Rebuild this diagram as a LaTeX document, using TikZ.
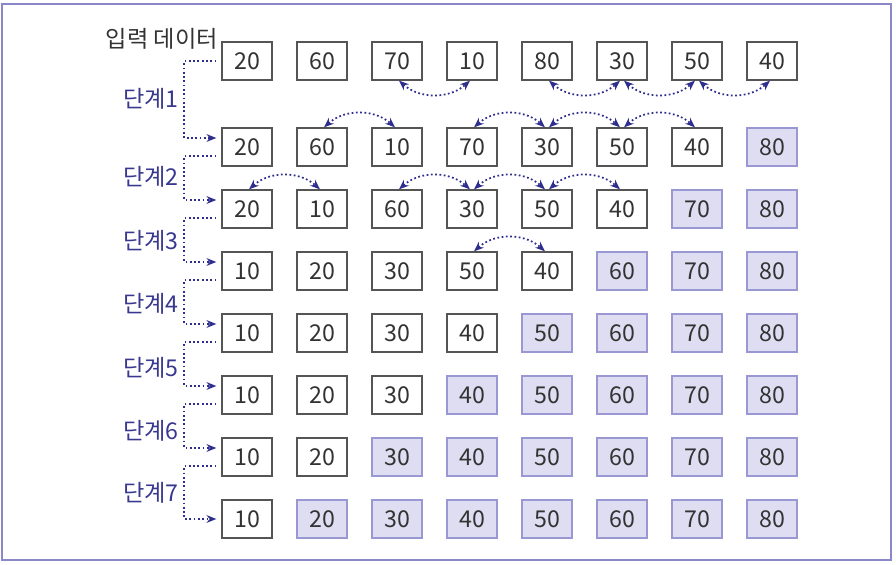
\documentclass[tikz,border=0pt]{standalone}
\usepackage{fontspec}
\setmainfont{Noto Sans CJK KR}
\usetikzlibrary{arrows.meta}
\usetikzlibrary{positioning}
\definecolor{framelav}{HTML}{8A88C8}
\definecolor{donefill}{HTML}{DEDDF2}
\definecolor{donedraw}{HTML}{9A98D2}
\definecolor{boxgray}{HTML}{555555}
\definecolor{arrowblue}{HTML}{2E2E8E}
\definecolor{stepblue}{HTML}{38388E}
\tikzset{
  cell/.style={rectangle,draw=boxgray,line width=0.9pt,fill=white,minimum width=1.25cm,minimum height=0.95cm,inner sep=0pt,font=\fontsize{16.5pt}{19pt}\selectfont,text=black!80},
  done/.style={cell,draw=donedraw,fill=donefill},
  stage/.style={font=\fontsize{16.5pt}{19pt}\selectfont,text=stepblue,anchor=east,inner sep=0pt},
  link/.style={draw=arrowblue,line width=1.25pt,dash pattern=on 1.25pt off 1.8pt,-{Stealth[length=7pt,width=5.5pt]}},
  swap/.style={draw=arrowblue,line width=1.25pt,dash pattern=on 1.25pt off 1.8pt,{Stealth[length=7pt,width=5.5pt]}-{Stealth[length=7pt,width=5.5pt]}}
}
\begin{document}
\begin{tikzpicture}
\useasboundingbox (0,0) rectangle (22.4,14.125);
\draw[framelav,line width=1.4pt] (0.05,0.125) rectangle (22.275,14.025);

% input row
\node[cell] (r0c0) at (6.175,12.6) {20};
\node[cell] (r0c1) at (8.05,12.6) {60};
\node[cell] (r0c2) at (9.925,12.6) {70};
\node[cell] (r0c3) at (11.8,12.6) {10};
\node[cell] (r0c4) at (13.675,12.6) {80};
\node[cell] (r0c5) at (15.55,12.6) {30};
\node[cell] (r0c6) at (17.425,12.6) {50};
\node[cell] (r0c7) at (19.3,12.6) {40};

% after pass 1
\node[cell] (r1c0) at (6.175,10.45) {20};
\node[cell] (r1c1) at (8.05,10.45) {60};
\node[cell] (r1c2) at (9.925,10.45) {10};
\node[cell] (r1c3) at (11.8,10.45) {70};
\node[cell] (r1c4) at (13.675,10.45) {30};
\node[cell] (r1c5) at (15.55,10.45) {50};
\node[cell] (r1c6) at (17.425,10.45) {40};
\node[done] (r1c7) at (19.3,10.45) {80};

% after pass 2
\node[cell] (r2c0) at (6.175,8.9) {20};
\node[cell] (r2c1) at (8.05,8.9) {10};
\node[cell] (r2c2) at (9.925,8.9) {60};
\node[cell] (r2c3) at (11.8,8.9) {30};
\node[cell] (r2c4) at (13.675,8.9) {50};
\node[cell] (r2c5) at (15.55,8.9) {40};
\node[done] (r2c6) at (17.425,8.9) {70};
\node[done] (r2c7) at (19.3,8.9) {80};

% after pass 3
\node[cell] (r3c0) at (6.175,7.35) {10};
\node[cell] (r3c1) at (8.05,7.35) {20};
\node[cell] (r3c2) at (9.925,7.35) {30};
\node[cell] (r3c3) at (11.8,7.35) {50};
\node[cell] (r3c4) at (13.675,7.35) {40};
\node[done] (r3c5) at (15.55,7.35) {60};
\node[done] (r3c6) at (17.425,7.35) {70};
\node[done] (r3c7) at (19.3,7.35) {80};

% after pass 4
\node[cell] (r4c0) at (6.175,5.8) {10};
\node[cell] (r4c1) at (8.05,5.8) {20};
\node[cell] (r4c2) at (9.925,5.8) {30};
\node[cell] (r4c3) at (11.8,5.8) {40};
\node[done] (r4c4) at (13.675,5.8) {50};
\node[done] (r4c5) at (15.55,5.8) {60};
\node[done] (r4c6) at (17.425,5.8) {70};
\node[done] (r4c7) at (19.3,5.8) {80};

% after pass 5
\node[cell] (r5c0) at (6.175,4.25) {10};
\node[cell] (r5c1) at (8.05,4.25) {20};
\node[cell] (r5c2) at (9.925,4.25) {30};
\node[done] (r5c3) at (11.8,4.25) {40};
\node[done] (r5c4) at (13.675,4.25) {50};
\node[done] (r5c5) at (15.55,4.25) {60};
\node[done] (r5c6) at (17.425,4.25) {70};
\node[done] (r5c7) at (19.3,4.25) {80};

% after pass 6
\node[cell] (r6c0) at (6.175,2.7) {10};
\node[cell] (r6c1) at (8.05,2.7) {20};
\node[done] (r6c2) at (9.925,2.7) {30};
\node[done] (r6c3) at (11.8,2.7) {40};
\node[done] (r6c4) at (13.675,2.7) {50};
\node[done] (r6c5) at (15.55,2.7) {60};
\node[done] (r6c6) at (17.425,2.7) {70};
\node[done] (r6c7) at (19.3,2.7) {80};

% after pass 7
\node[cell] (r7c0) at (6.175,1.15) {10};
\node[done] (r7c1) at (8.05,1.15) {20};
\node[done] (r7c2) at (9.925,1.15) {30};
\node[done] (r7c3) at (11.8,1.15) {40};
\node[done] (r7c4) at (13.675,1.15) {50};
\node[done] (r7c5) at (15.55,1.15) {60};
\node[done] (r7c6) at (17.425,1.15) {70};
\node[done] (r7c7) at (19.3,1.15) {80};

% labels
\node[font=\fontsize{16.5pt}{19pt}\selectfont,text=black!80,anchor=east,inner sep=0pt] (input) at (5.45,13.15) {입력 데이터};
\node[stage] (st1) at (4.475,11.65) {단계1};
\node[stage] (st2) at (4.475,9.7) {단계2};
\node[stage] (st3) at (4.475,8.1) {단계3};
\node[stage] (st4) at (4.475,6.54) {단계4};
\node[stage] (st5) at (4.475,4.93) {단계5};
\node[stage] (st6) at (4.475,3.35) {단계6};
\node[stage] (st7) at (4.475,1.8) {단계7};

% brackets between passes
\draw[link] ([xshift=-0.125cm]r0c0.west) -- ++(-0.8,0) |- ([xshift=-0.125cm,yshift=0.225cm]r1c0.west);
\draw[link] ([xshift=-0.125cm,yshift=-0.225cm]r1c0.west) -- ++(-0.8,0) |- ([xshift=-0.125cm,yshift=0.225cm]r2c0.west);
\draw[link] ([xshift=-0.125cm,yshift=-0.225cm]r2c0.west) -- ++(-0.8,0) |- ([xshift=-0.125cm,yshift=0.225cm]r3c0.west);
\draw[link] ([xshift=-0.125cm,yshift=-0.225cm]r3c0.west) -- ++(-0.8,0) |- ([xshift=-0.125cm,yshift=0.225cm]r4c0.west);
\draw[link] ([xshift=-0.125cm,yshift=-0.225cm]r4c0.west) -- ++(-0.8,0) |- ([xshift=-0.125cm,yshift=0.225cm]r5c0.west);
\draw[link] ([xshift=-0.125cm,yshift=-0.225cm]r5c0.west) -- ++(-0.8,0) |- ([xshift=-0.125cm,yshift=0.225cm]r6c0.west);
\draw[link] ([xshift=-0.125cm,yshift=-0.225cm]r6c0.west) -- ++(-0.8,0) |- ([xshift=-0.125cm]r7c0.west);

% swaps of pass 1 (below the input row)
\draw[swap] ([xshift=0.05cm]r0c2.south) to[bend right=42] ([xshift=-0.05cm]r0c3.south);
\draw[swap] ([xshift=0.05cm]r0c4.south) to[bend right=42] ([xshift=-0.05cm]r0c5.south);
\draw[swap] ([xshift=0.05cm]r0c5.south) to[bend right=42] ([xshift=-0.05cm]r0c6.south);
\draw[swap] ([xshift=0.05cm]r0c6.south) to[bend right=42] ([xshift=-0.05cm]r0c7.south);

% swaps of pass 2
\draw[swap] ([xshift=0.05cm]r1c1.north) to[bend left=42] ([xshift=-0.05cm]r1c2.north);
\draw[swap] ([xshift=0.05cm]r1c3.north) to[bend left=42] ([xshift=-0.05cm]r1c4.north);
\draw[swap] ([xshift=0.05cm]r1c4.north) to[bend left=42] ([xshift=-0.05cm]r1c5.north);
\draw[swap] ([xshift=0.05cm]r1c5.north) to[bend left=42] ([xshift=-0.05cm]r1c6.north);

% swaps of pass 3
\draw[swap] ([xshift=0.05cm]r2c0.north) to[bend left=42] ([xshift=-0.05cm]r2c1.north);
\draw[swap] ([xshift=0.05cm]r2c2.north) to[bend left=42] ([xshift=-0.05cm]r2c3.north);
\draw[swap] ([xshift=0.05cm]r2c3.north) to[bend left=42] ([xshift=-0.05cm]r2c4.north);
\draw[swap] ([xshift=0.05cm]r2c4.north) to[bend left=42] ([xshift=-0.05cm]r2c5.north);

% swap of pass 4
\draw[swap] ([xshift=0.05cm]r3c3.north) to[bend left=42] ([xshift=-0.05cm]r3c4.north);

\end{tikzpicture}
\end{document}
